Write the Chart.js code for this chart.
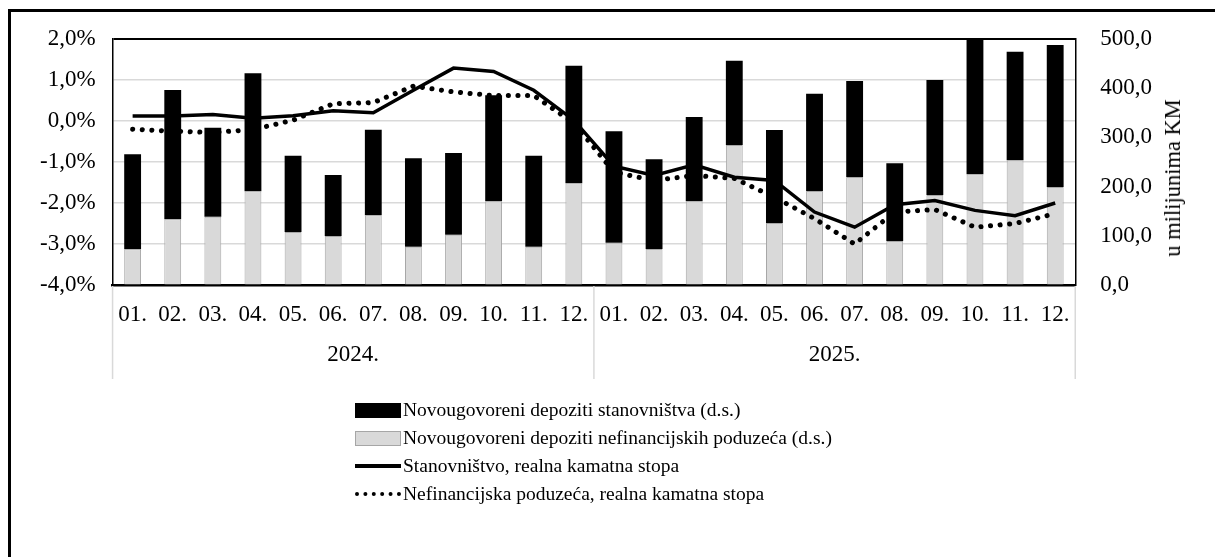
<!DOCTYPE html>
<html>
<head>
<meta charset="utf-8">
<script src="https://cdn.jsdelivr.net/npm/chart.js@4.4.1/dist/chart.umd.min.js"></script>
<style>
  html, body { margin: 0; padding: 0; background: #fff; }
  #wrap { position: relative; width: 1215px; height: 557px; overflow: hidden; }
  #frame { position: absolute; left: 8px; top: 9px; width: 1300px; height: 600px;
           border-left: 3px solid #000; border-top: 3px solid #000; }
  canvas { position: absolute; left: 0; top: 0; }
  #ytitle { position: absolute; left: 1173px; top: 178px; transform: translate(-50%, -50%) rotate(-90deg);
            font: 22.5px "Liberation Serif"; white-space: nowrap; color: #000; }
  #legend { position: absolute; left: 355px; top: 396px; font: 19.5px "Liberation Serif"; color: #000; }
  .item { height: 28px; display: flex; align-items: center; }
  .sym { width: 46px; margin-right: 2px; box-sizing: border-box; }
</style>
</head>
<body>
<div id="wrap">
  <div id="frame"></div>
  <canvas id="chart" width="1215" height="557"></canvas>
  <div id="ytitle">u milijunima KM</div>
  <div id="legend">
    <div class="item"><div class="sym" style="height:15px;background:#000"></div>Novougovoreni depoziti stanovništva (d.s.)</div>
    <div class="item"><div class="sym" style="height:15px;background:#d9d9d9;border:1px solid #a6a6a6"></div>Novougovoreni depoziti nefinancijskih poduzeća (d.s.)</div>
    <div class="item"><div class="sym" style="height:4px;background:#000"></div>Stanovništvo, realna kamatna stopa</div>
    <div class="item"><div class="sym" style="height:0;border-top:4px dotted #000"></div>Nefinancijska poduzeća, realna kamatna stopa</div>
  </div>
</div>
<script>
// months, two years
const months = ['01.', '02.', '03.', '04.', '05.', '06.', '07.', '08.', '09.', '10.', '11.', '12.',
                '01.', '02.', '03.', '04.', '05.', '06.', '07.', '08.', '09.', '10.', '11.', '12.'];
const years = ['2024.', '2025.'];

// new deposits, million KM (right axis)
const depNefin = [72.6, 133.5, 138.9, 190.4, 107.7, 99.6, 141.6, 77.9, 102.3, 170.0, 77.9, 206.6,
                  86.0, 73.2, 170.0, 284.6, 126.0, 191.0, 219.5, 89.4, 183.0, 225.0, 253.4, 199.2];
const depStan = [193.0, 262.8, 180.9, 239.8, 155.2, 124.0, 174.1, 179.6, 166.0, 215.5, 185.0, 239.2,
                 226.4, 182.2, 171.5, 171.4, 189.0, 197.9, 195.1, 157.9, 233.7, 280.0, 220.8, 288.6];

// real interest rates, % (left axis)
const rateStan = [0.12, 0.12, 0.16, 0.07, 0.13, 0.25, 0.20, 0.75, 1.29, 1.21, 0.75, 0.02,
                  -1.10, -1.33, -1.07, -1.37, -1.45, -2.22, -2.59, -2.04, -1.94, -2.18, -2.31, -2.00];
const rateNefin = [-0.20, -0.25, -0.28, -0.21, 0.02, 0.42, 0.45, 0.85, 0.71, 0.62, 0.62, -0.05,
                   -1.25, -1.45, -1.33, -1.40, -1.86, -2.38, -3.00, -2.22, -2.16, -2.59, -2.50, -2.26];

const font = { family: 'Liberation Serif', size: 23 };
const sepColor = '#d9d9d9';

// vertical lines that split the year groups under the category axis
const yearSeparators = {
    id: 'yearSeparators',
    afterDraw(chart) {
        const x = chart.scales.x;
        const c = chart.ctx;
        c.save();
        c.strokeStyle = sepColor;
        c.lineWidth = 1.5;
        [-0.5, 11.5, 23.5].forEach(v => {
            const px = x.getPixelForValue(v);
            c.beginPath();
            c.moveTo(px, chart.chartArea.bottom + 1);
            c.lineTo(px, 379);
            c.stroke();
        });
        c.restore();
    }
};

const ctx = document.getElementById('chart').getContext('2d');
new Chart(ctx, {
    data: {
        labels: months,
        datasets: [
            {
                type: 'line', label: 'Stanovništvo, realna kamatna stopa', data: rateStan, yAxisID: 'y',
                borderColor: '#000', borderWidth: 3.5, pointRadius: 0, tension: 0, order: 0
            },
            {
                type: 'line', label: 'Nefinancijska poduzeća, realna kamatna stopa', data: rateNefin, yAxisID: 'y',
                borderColor: '#000', borderWidth: 5, borderDash: [0.1, 9.5], borderCapStyle: 'round',
                pointRadius: 0, tension: 0, order: 0
            },
            {
                type: 'bar', label: 'Novougovoreni depoziti nefinancijskih poduzeća (d.s.)', data: depNefin, yAxisID: 'y1',
                backgroundColor: '#d9d9d9', borderColor: '#a6a6a6', borderWidth: 1, stack: 'dep', order: 1,
                barPercentage: 0.42, categoryPercentage: 1
            },
            {
                type: 'bar', label: 'Novougovoreni depoziti stanovništva (d.s.)', data: depStan, yAxisID: 'y1',
                backgroundColor: '#000', borderWidth: 0, stack: 'dep', order: 1,
                barPercentage: 0.42, categoryPercentage: 1
            }
        ]
    },
    plugins: [yearSeparators],
    options: {
        responsive: false,
        animation: false,
        layout: { padding: { left: 23, right: 38, top: 39, bottom: 192 } },
        plugins: { legend: { display: false }, tooltip: { enabled: false } },
        scales: {
            x: {
                stacked: true,
                offset: true,
                weight: 0,
                border: { color: '#000', width: 2.5 },
                grid: { display: false, drawTicks: false },
                ticks: { font: { ...font, lineHeight: 1.2 }, color: '#000', padding: 16, maxRotation: 0, autoSkip: false }
            },
            x2: {
                type: 'linear',
                position: 'bottom',
                weight: 1,
                min: 0,
                max: 24,
                border: { display: false },
                grid: { display: false, drawTicks: false },
                afterBuildTicks: s => { s.ticks = [{ value: 6 }, { value: 18 }]; },
                ticks: {
                    font: { ...font, lineHeight: 0.8 }, color: '#000', padding: 1, maxRotation: 0, autoSkip: false,
                    callback: v => v === 6 ? years[0] : years[1]
                }
            },
            y: {
                position: 'left',
                min: -4,
                max: 2,
                border: { color: '#000', width: 1.5 },
                grid: {
                    drawTicks: false,
                    lineWidth: c => c.tick.value === 2 ? 2 : 1.5,
                    color: c => c.tick.value === 2 ? '#000' : '#d9d9d9'
                },
                ticks: {
                    stepSize: 1, font: font, color: '#000', padding: 17,
                    callback: v => v.toFixed(1).replace('.', ',') + '%'
                }
            },
            y1: {
                position: 'right',
                stacked: true,
                min: 0,
                max: 500,
                border: { color: '#000', width: 1.5 },
                grid: { drawOnChartArea: false, drawTicks: false },
                ticks: {
                    stepSize: 100, font: font, color: '#000', padding: 25,
                    callback: v => v.toFixed(1).replace('.', ',')
                }
            }
        }
    }
});
</script>
</body>
</html>
